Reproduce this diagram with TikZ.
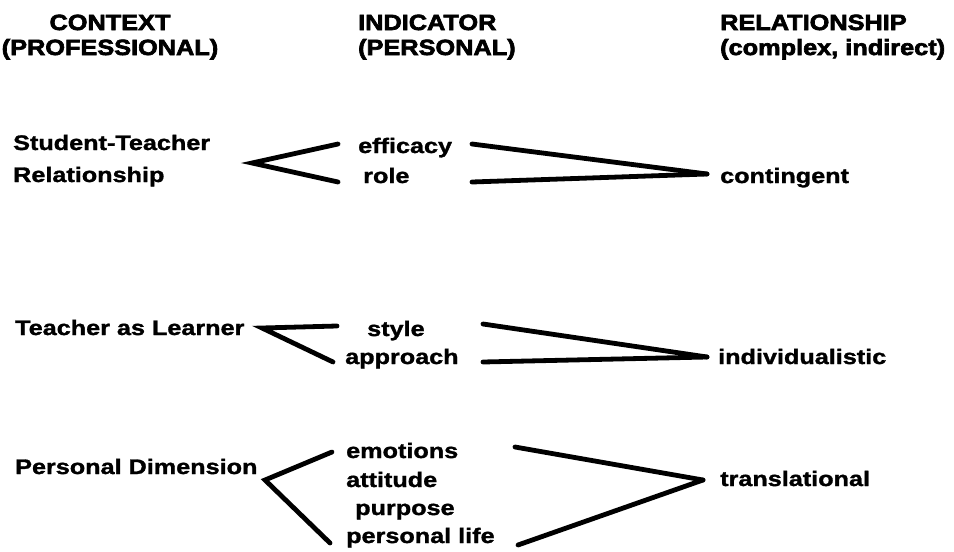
\documentclass[tikz,border=0pt]{standalone}
\usepackage{fontspec}
\setmainfont{Liberation Sans}
\newfontfamily\headfont[FakeStretch=1.15,FakeBold=3]{Liberation Sans Bold}
\newfontfamily\labelfont[FakeStretch=1.2,FakeBold=1.5]{Liberation Sans Bold}

\begin{document}
\begin{tikzpicture}[x=1pt,y=-1pt,
  head/.style={anchor=base west,inner sep=0pt,font=\headfont\fontsize{22}{25}\selectfont},
  lbl/.style={anchor=base west,inner sep=0pt,font=\labelfont\fontsize{21}{24}\selectfont},
  link/.style={line width=4.8pt,line cap=round},
  fork/.style={link,line join=miter,miter limit=12}]
\useasboundingbox (0,0) rectangle (954,552);

% column headings
\node[head,anchor=base] (h-ctx)  at (110,30) {CONTEXT};
\node[head,anchor=base] (h-prof) at (110,55) {(PROFESSIONAL)};
\node[head] (h-ind)  at (358,30) {INDICATOR};
\node[head] (h-pers) at (358,55) {(PERSONAL)};
\node[head] (h-rel)  at (720,30) {RELATIONSHIP};
\node[head] (h-cx)   at (720,55) {(complex, indirect)};

% first row
\node[lbl] (st1)  at (13,150)  {Student-Teacher};
\node[lbl] (st2)  at (13,182)  {Relationship};
\node[lbl] (eff)  at (358,153) {efficacy};
\node[lbl] (role) at (363,183) {role};
\node[lbl] (cont) at (720,183) {contingent};

% second row
\node[lbl] (tal)   at (15,335)  {Teacher as Learner};
\node[lbl] (style) at (367,336) {style};
\node[lbl] (appr)  at (345,364) {approach};
\node[lbl] (indiv) at (718,364) {individualistic};

% third row
\node[lbl] (pd)    at (15,474)  {Personal Dimension};
\node[lbl] (emo)   at (346,458) {emotions};
\node[lbl] (att)   at (346,487) {attitude};
\node[lbl] (purp)  at (355,515) {purpose};
\node[lbl] (plife) at (346,543) {personal life};
\node[lbl] (trans) at (720,486) {translational};

% fork points beside the context labels
\coordinate (st-fork) at (252,163);
\coordinate (tl-fork) at (262,328);
\coordinate (pd-fork) at (265,480);

% context <- indicators
\draw[fork] ([shift={(-20,-9)}]eff.base west) -- (st-fork) -- ([shift={(-25,-1)}]role.base west);
\draw[fork] ([shift={(-30,-10)}]style.base west) -- (tl-fork) -- ([shift={(-12,-2)}]appr.base west);
\draw[fork] ([shift={(-14,-6)}]emo.base west) -- (pd-fork) -- ([shift={(-16,0)}]plife.base west);

% indicators -> relationship
\draw[link] ([shift={(114,-9)}]eff.base west)  -- ([shift={(-13,-9)}]cont.base west);
\draw[link] ([shift={(109,-1)}]role.base west)  -- ([shift={(-13,-9)}]cont.base west);
\draw[link] ([shift={(116,-12)}]style.base west) -- ([shift={(-11,-7)}]indiv.base west);
\draw[link] ([shift={(138,-2)}]appr.base west) -- ([shift={(-11,-7)}]indiv.base west);
\draw[link] ([shift={(169,-11)}]emo.base west) -- ([shift={(-17,-6)}]trans.base west);
\draw[link] ([shift={(172,2)}]plife.base west) -- ([shift={(-17,-6)}]trans.base west);
\end{tikzpicture}
\end{document}
